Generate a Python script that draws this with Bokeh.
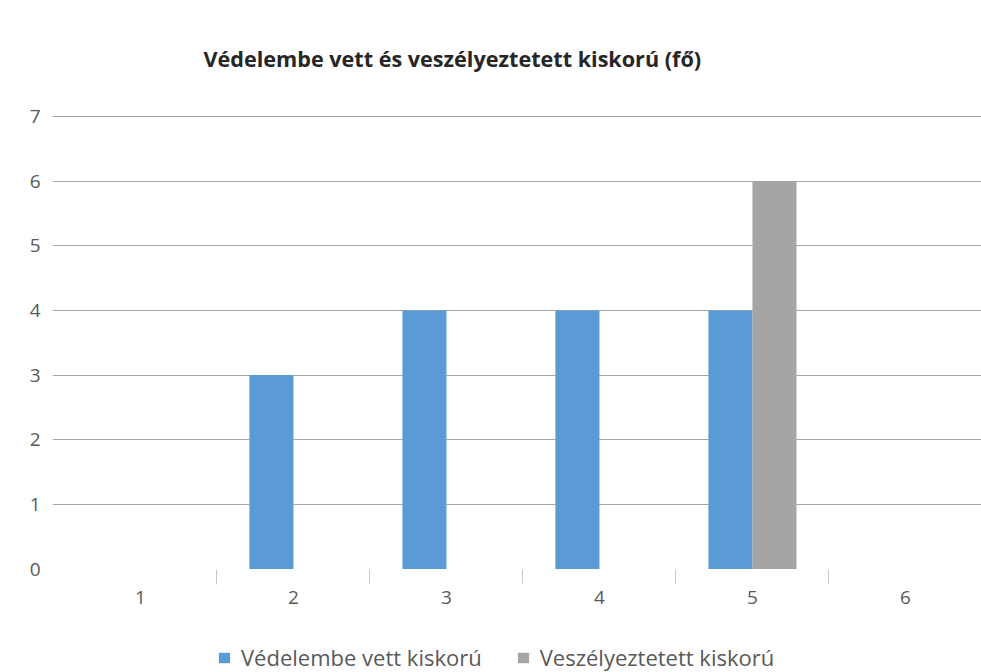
from bokeh.plotting import figure
from bokeh.models import ColumnDataSource, FixedTicker, Range1d, Legend, LegendItem
from bokeh.transform import dodge
from bokeh.embed import file_html
from bokeh.resources import INLINE

# data
categories = ["1", "2", "3", "4", "5", "6"]
vedelembe = [0, 3, 4, 4, 4, 0]
veszelyeztetett = [0, 0, 0, 0, 6, 0]
series_names = ["Védelembe vett kiskorú", "Veszélyeztetett kiskorú"]
title_text = "Védelembe vett és veszélyeztetett kiskorú (fő)"
y_ticks = [0, 1, 2, 3, 4, 5, 6, 7]
grid_ticks = [1, 2, 3, 4, 5, 6, 7]

xpos = list(range(1, len(categories) + 1))
src = ColumnDataSource(dict(x=xpos, a=vedelembe, b=veszelyeztetett))

FONT = "Open Sans"
p = figure(width=981, height=672, output_backend="svg", toolbar_location=None,
           x_range=Range1d(0.425, 6.497), y_range=Range1d(-1.60, 7.03),
           min_border_left=52, min_border_right=0, min_border_top=112,
           min_border_bottom=0)
p.outline_line_color = None
p.background_fill_color = "white"
p.border_fill_color = "white"

bw = 0.288
r1 = p.vbar(x=dodge("x", -bw / 2, range=p.x_range), top="a", width=bw, source=src,
            fill_color="#5B9BD5", line_color=None)
r2 = p.vbar(x=dodge("x", bw / 2, range=p.x_range), top="b", width=bw, source=src,
            fill_color="#A5A5A5", line_color=None)

p.title.text = title_text
p.title.text_font = FONT
p.title.text_font_style = "bold"
p.title.text_font_size = "21.6px"
p.title.text_color = "#262626"
p.title.align = "left"
p.title.offset = 151
p.title.standoff = 83

# y axis
p.yaxis.ticker = FixedTicker(ticks=y_ticks)
p.yaxis.axis_line_color = None
p.yaxis.major_tick_line_color = None
p.yaxis.minor_tick_line_color = None
p.yaxis.major_label_text_font = FONT
p.yaxis.major_label_text_font_size = "19px"
p.yaxis.major_label_text_color = "#595959"
p.yaxis.major_label_standoff = 6
p.ygrid.ticker = FixedTicker(ticks=grid_ticks)
p.ygrid.grid_line_color = "#a6a6a6"
p.ygrid.grid_line_width = 1
p.xgrid.grid_line_color = None

# x axis, drawn at y = 0 inside the frame
p.xaxis.fixed_location = 0
p.xaxis.ticker = FixedTicker(ticks=xpos, minor_ticks=[v + 0.5 for v in xpos])
p.xaxis.major_label_overrides = {v: c for v, c in zip(xpos, categories)}
p.xaxis.axis_line_color = None
p.xaxis.major_tick_line_color = None
p.xaxis.minor_tick_line_color = "#c8c8c8"
p.xaxis.minor_tick_out = 15
p.xaxis.minor_tick_in = 0
p.xaxis.major_label_text_font = FONT
p.xaxis.major_label_text_font_size = "19px"
p.xaxis.major_label_text_color = "#595959"
p.xaxis.major_label_standoff = 7

legend = Legend(items=[LegendItem(label=series_names[0], renderers=[r1]),
                       LegendItem(label=series_names[1], renderers=[r2])],
                orientation="horizontal", location=(165, 0),
                padding=0, margin=0, spacing=34, glyph_width=14, glyph_height=13,
                label_standoff=10, label_text_font=FONT, label_text_font_size="22px",
                label_text_color="#595959", border_line_color=None,
                background_fill_alpha=0, label_height=22)
p.add_layout(legend, "center")

open("out.html", "w").write(file_html(p, INLINE))
